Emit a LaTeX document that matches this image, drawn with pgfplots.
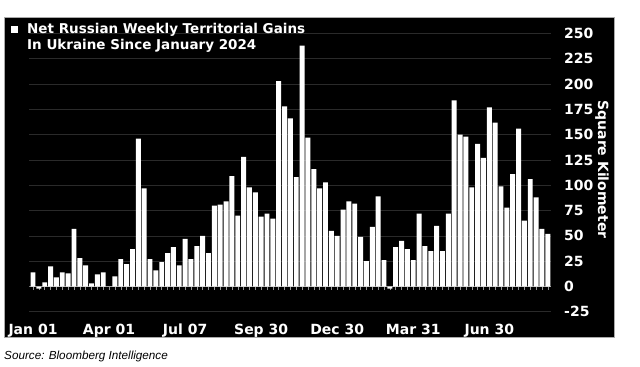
\documentclass[border=0pt]{standalone}
\usepackage{fontspec}
\usepackage{pgfplots}
\pgfplotsset{compat=1.18}
\newfontfamily\djv{DejaVu Sans}
\newfontfamily\lib{Liberation Sans}
\definecolor{gridc}{RGB}{42,42,42}
\definecolor{tickc}{RGB}{150,150,150}
\definecolor{framec}{RGB}{170,170,170}
\pgfplotstableread{
x y
0 14
1 -2
2 4
3 20
4 9
5 14
6 13
7 57
8 28
9 21
10 3
11 12
12 14
13 0
14 10
15 27
16 22
17 37
18 146
19 97
20 27
21 16
22 24
23 33
24 39
25 21
26 47
27 27
28 40
29 50
30 33
31 80
32 81
33 84
34 109
35 70
36 128
37 98
38 93
39 69
40 72
41 67
42 203
43 178
44 166
45 108
46 238
47 147
48 116
49 97
50 103
51 55
52 50
53 76
54 84
55 82
56 49
57 25
58 59
59 89
60 26
61 -2
62 39
63 45
64 37
65 26
66 72
67 40
68 35
69 60
70 35
71 72
72 184
73 150
74 148
75 98
76 141
77 127
78 177
79 162
80 99
81 78
82 111
83 156
84 65
85 106
86 88
87 57
88 52
}\gains
\begin{document}
\begin{tikzpicture}
\useasboundingbox (0,0) rectangle (640bp,-367bp);
\fill[white] (0,0) rectangle (640bp,-367bp);
\fill[black, draw=framec, line width=0.8bp] (4bp,-17bp) rectangle (614bp,-337bp);
\begin{axis}[
  at={(29.5bp,-318.9bp)}, anchor=south west,
  scale only axis, width=521.8bp, height=290.5bp,
  xmin=-0.6, xmax=88.6, ymin=-32, ymax=255,
  axis line style={draw=none},
  major tick length=0pt,
  ytick={-25,0,...,250},
  yticklabel pos=right,
  ymajorgrids, grid style={gridc, line width=0.8bp},
  xtick={0,13,26,39,52,65,78},
  xticklabels={Jan 01,Apr 01,Jul 07,Sep 30,Dec 30,Mar 31,Jun 30},
  tick label style={font=\djv\bfseries\fontsize{14bp}{16bp}\selectfont, text=white, inner sep=0pt},
  yticklabel style={anchor=west, xshift=12.7bp},
  xticklabel style={anchor=north, yshift=-5bp},
  /pgf/number format/assume math mode=true,
  ybar, bar width=0.84, bar shift=0pt,
]
\draw[tickc, line width=0.6bp] (axis cs:-0.6,0) -- (axis cs:88.6,0);
\pgfplotsinvokeforeach{0,...,88}{\draw[tickc, line width=0.5bp] (axis cs:#1,0) -- (axis cs:#1,-3);}
\addplot[fill=white, draw=none] table[x=x, y=y] {\gains};
\end{axis}
\fill[white] (11bp,-26bp) rectangle (18bp,-33bp);
\node[anchor=base west, inner sep=0pt, text=white, font=\djv\bfseries\fontsize{13.5bp}{16bp}\selectfont] at (27bp,-33bp) {Net Russian Weekly Territorial Gains};
\node[anchor=base west, inner sep=0pt, text=white, font=\djv\bfseries\fontsize{13.5bp}{16bp}\selectfont] at (27bp,-49bp) {In Ukraine Since January 2024};
\node[rotate=-90, anchor=base, inner sep=0pt, text=white, font=\djv\bfseries\fontsize{14bp}{16bp}\selectfont] at (598bp,-169.5bp) {Square Kilometer};
\node[anchor=base west, inner sep=0pt, text=black, font=\lib\itshape\fontsize{11.7bp}{14bp}\selectfont] at (4bp,-359bp) {Source: Bloomberg Intelligence};
\end{tikzpicture}
\end{document}
